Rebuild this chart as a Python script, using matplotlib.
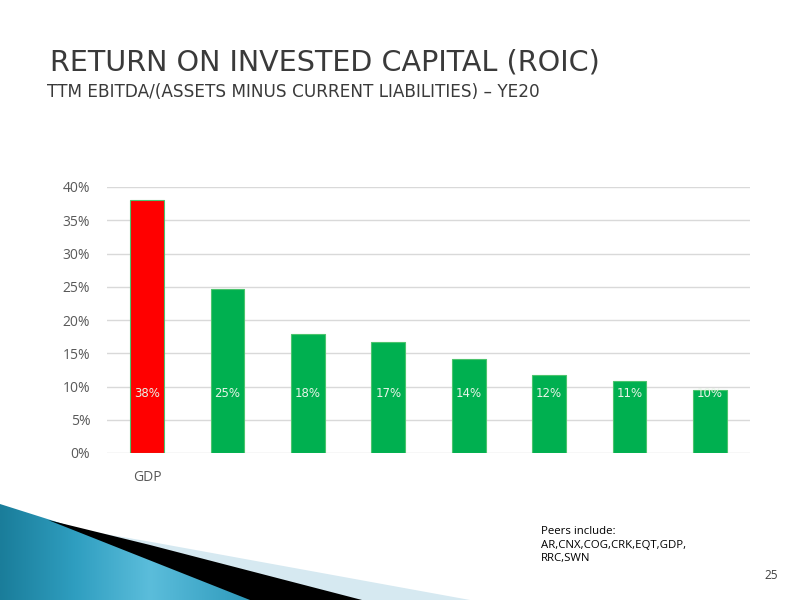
import numpy as np
import matplotlib
matplotlib.use("Agg")
import matplotlib.pyplot as plt
from matplotlib.patches import Polygon
from matplotlib.colors import LinearSegmentedColormap
from matplotlib.ticker import FuncFormatter

# chart data
categories = ["GDP", "", "", "", "", "", "", ""]
roic_pct = [38.0, 24.7, 17.9, 16.7, 14.1, 11.8, 10.8, 9.5]
bar_labels = ["38%", "25%", "18%", "17%", "14%", "12%", "11%", "10%"]
bar_colors = ["#ff0000"] + ["#00b050"] * 7
y_ticks = [0, 5, 10, 15, 20, 25, 30, 35, 40]

title = "RETURN ON INVESTED CAPITAL (ROIC)"
subtitle = "TTM EBITDA/(ASSETS MINUS CURRENT LIABILITIES) \u2013 YE20"
peers_lines = ["Peers include:", "AR,CNX,COG,CRK,EQT,GDP,", "RRC,SWN"]
page_no = "25"

W, H = 800, 600
fig = plt.figure(figsize=(W / 100, H / 100), dpi=100)
fig.patch.set_facecolor("white")

# --- slide background layer, in pixel coords ---
deco = fig.add_axes([0, 0, 1, 1], zorder=0)
deco.set_xlim(0, W)
deco.set_ylim(H, 0)
deco.axis("off")

# light blue wedge
light = Polygon([(70, 528), (150, 541.7), (470, 600), (300, 600)],
                closed=True, facecolor="#d6e9f1", edgecolor="none")
deco.add_patch(light)
# black wedge
black = Polygon([(48, 520), (150, 545), (362, 600), (250, 600)],
                closed=True, facecolor="black", edgecolor="none")
deco.add_patch(black)
# teal gradient wedge
teal = Polygon([(0, 504), (60, 523), (150, 553), (293, 600), (0, 600)],
               closed=True, facecolor="none", edgecolor="none")
deco.add_patch(teal)
cmap = LinearSegmentedColormap.from_list(
    "teal", ["#1a7d9a", "#2f9ec0", "#5bbddb", "#3aa3c4", "#1b84a3"])
grad = np.linspace(0, 1, 256).reshape(1, -1)
img = deco.imshow(grad, cmap=cmap, extent=[0, 300, 600, 500], aspect="auto")
img.set_clip_path(teal)

deco.text(50, 70, title, fontsize=20.6, color="#3a3a3a", va="baseline",
          ha="left", family="DejaVu Sans")
deco.text(47, 97, subtitle, fontsize=12.2, color="#3a3a3a", va="baseline",
          ha="left", family="DejaVu Sans")
for i, line in enumerate(peers_lines):
    deco.text(541, 534 + i * 13.5, line, fontsize=8.2, color="black",
              va="baseline", ha="left", family="Open Sans")
deco.text(778, 579, page_no, fontsize=8.5, color="#404040", va="baseline",
          ha="right", family="Open Sans")

# --- chart ---
left, right = 107 / W, 750 / W
bottom, top = 1 - 453 / H, 1 - 187 / H
ax = fig.add_axes([left, bottom, right - left, top - bottom], zorder=1)
ax.patch.set_alpha(0)

x = np.arange(len(categories))
ax.bar(x, roic_pct, width=0.42, color=bar_colors, edgecolor="#4cc46e",
       linewidth=0.8, zorder=3)
for xi, lab in zip(x, bar_labels):
    ax.text(xi, 9.0, lab, ha="center", va="center", fontsize=8.5,
            color="#e8f4e8", family="DejaVu Sans", zorder=4)

ax.set_xlim(-0.5, len(categories) - 0.5)
ax.set_ylim(0, 40)
ax.set_yticks(y_ticks)
ax.yaxis.set_major_formatter(FuncFormatter(lambda v, p: f"{v:.0f}%"))
ax.set_xticks(x)
ax.set_xticklabels(categories)
ax.grid(axis="y", color="#d9d9d9", linewidth=1, zorder=0)
for s in ax.spines.values():
    s.set_visible(False)
ax.tick_params(axis="both", length=0, labelsize=10, colors="#595959")
ax.tick_params(axis="y", pad=12)
ax.tick_params(axis="x", pad=12)
for t in ax.get_xticklabels() + ax.get_yticklabels():
    t.set_family("Open Sans")

fig.savefig("out.png", dpi=100)
